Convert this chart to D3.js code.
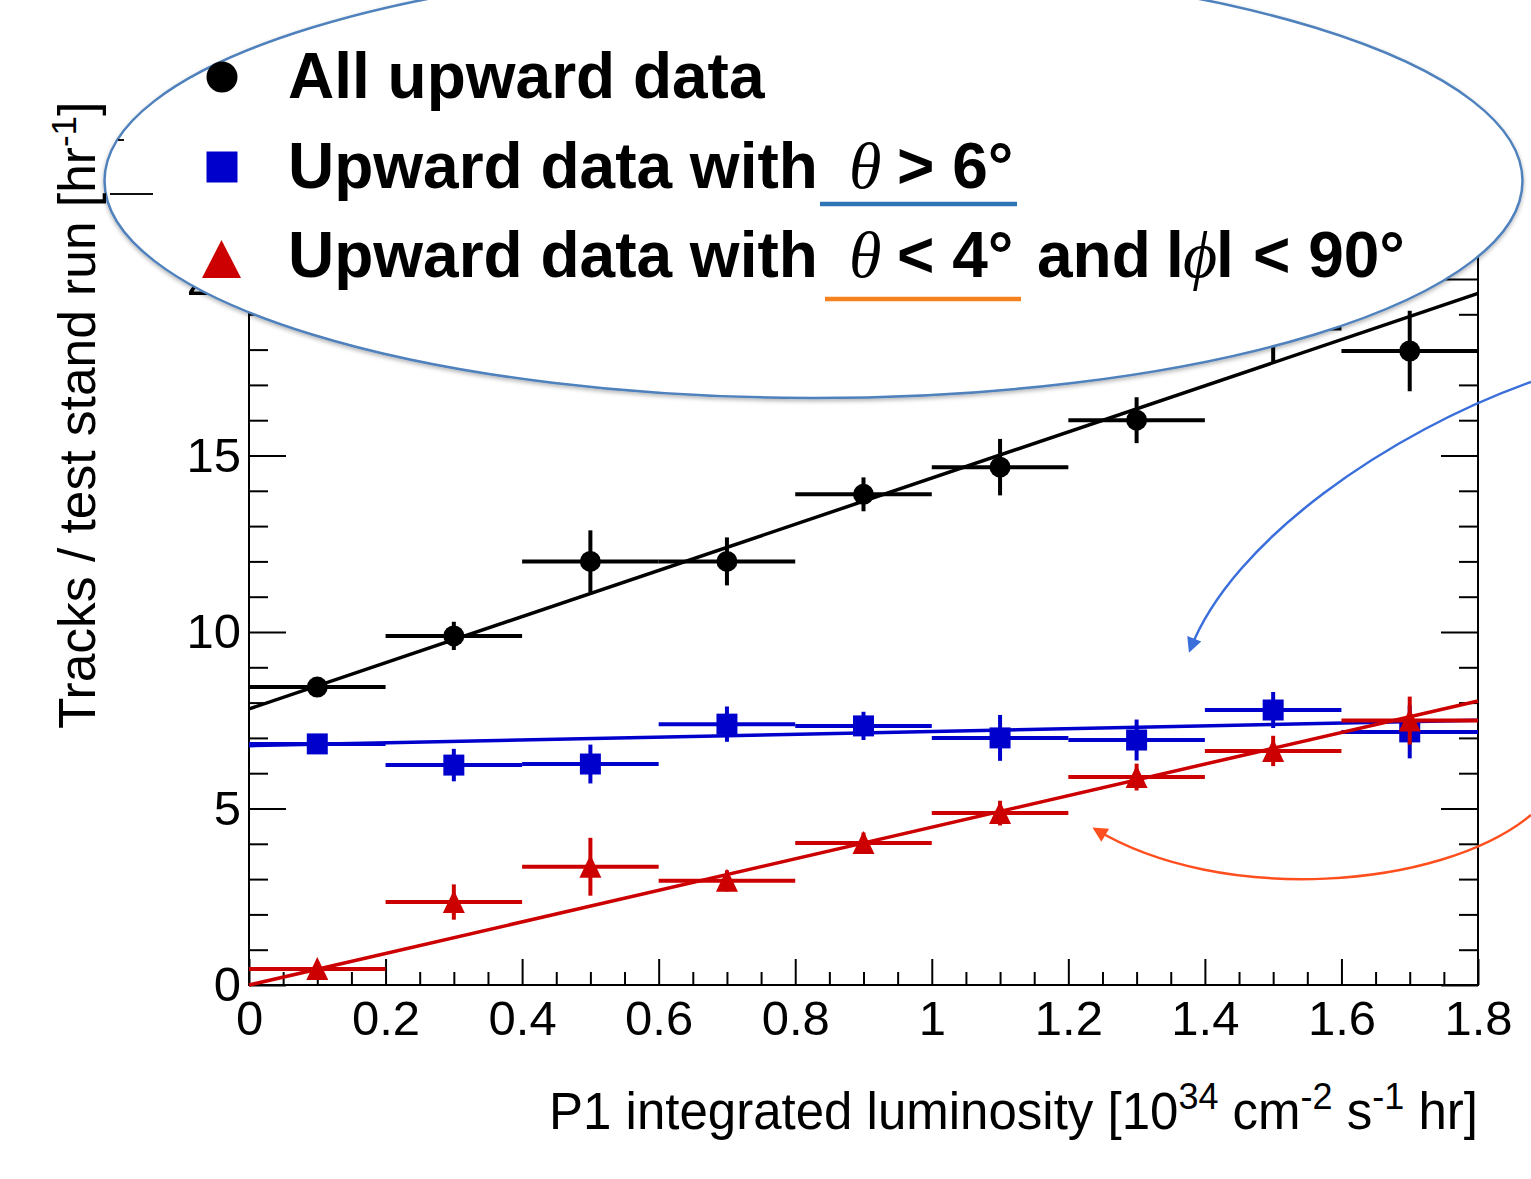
<!DOCTYPE html>
<html><head><meta charset="utf-8">
<script src="https://cdn.jsdelivr.net/npm/d3@7"></script>
<style>body{margin:0;background:#fff;} svg{display:block;}</style>
</head><body>
<svg id="c" width="1531" height="1179"></svg>
<script>
// ---------------- data ----------------
const binCenters = [0.1, 0.3, 0.5, 0.7, 0.9, 1.1, 1.3, 1.5, 1.7];
const binHalfWidth = 0.1;
const allUpward    = [8.44, 9.89, 12.0, 12.0, 13.9, 14.67, 16.0, 18.6, 17.96];
const allUpwardErr = [0.25, 0.40, 0.88, 0.68, 0.48, 0.80, 0.65, 0.95, 1.14];
const thetaGt6     = [6.83, 6.23, 6.26, 7.39, 7.34, 7.00, 6.94, 7.79, 7.17];
const thetaGt6Err  = [0.15, 0.46, 0.55, 0.50, 0.40, 0.65, 0.58, 0.51, 0.75];
const thetaLt4     = [0.45, 2.35, 3.35, 2.95, 4.02, 4.87, 5.89, 6.63, 7.49];
const thetaLt4Err  = [0.20, 0.50, 0.82, 0.30, 0.30, 0.35, 0.38, 0.43, 0.68];
// linear fits: [intercept, slope]
const fitAll  = [7.82, 6.54];
const fitGt6  = [6.78, 0.40];
const fitLt4  = [0.00, 4.47];
const xTickValues = [0, 0.2, 0.4, 0.6, 0.8, 1.0, 1.2, 1.4, 1.6, 1.8];
const xTickLabels = ["0", "0.2", "0.4", "0.6", "0.8", "1", "1.2", "1.4", "1.6", "1.8"];
const yTickValues = [0, 5, 10, 15, 20];
const yTickLabels = ["0", "5", "10", "15", "20"];

// ---------------- setup ----------------
const FONT = "'Liberation Sans', Arial, Helvetica, sans-serif";
const SERIF = "'Liberation Serif', 'Times New Roman', serif";
const BLACK = "#000000", BLUE = "#0000cc", RED = "#cc0000";
const svg = d3.select("#c");
const defs = svg.append("defs");
const sh = defs.append("filter").attr("id", "shadow").attr("x", "-10%").attr("y", "-10%").attr("width", "120%").attr("height", "130%");
sh.append("feDropShadow").attr("dx", 0).attr("dy", 2).attr("stdDeviation", 2).attr("flood-color", "#000").attr("flood-opacity", 0.3);
function arrowMarker(id, color) {
  defs.append("marker").attr("id", id).attr("viewBox", "0 0 10 10")
    .attr("refX", 8).attr("refY", 5).attr("markerWidth", 17).attr("markerHeight", 15)
    .attr("markerUnits", "userSpaceOnUse").attr("orient", "auto")
    .append("path").attr("d", "M0,0 L10,5 L0,10 z").attr("fill", color);
}
arrowMarker("arrBlue", "#3a6edb");
arrowMarker("arrOrange", "#ff4f1e");

const x = d3.scaleLinear().domain([0, 1.8]).range([249, 1478]);
const y = d3.scaleLinear().domain([0, 24]).range([985, 985 - 24 * 35.3]);

const plot = svg.append("g");
plot.append("rect")
  .attr("x", x(0)).attr("y", y(24)).attr("width", x(1.8) - x(0)).attr("height", y(0) - y(24))
  .attr("fill", "none").attr("stroke", BLACK).attr("stroke-width", 2);

function styleAxis(g) {
  g.select(".domain").remove();
  g.selectAll("line").attr("stroke", BLACK).attr("stroke-width", 2);
  g.selectAll("text").attr("font-family", FONT).attr("font-size", 49).attr("fill", BLACK);
}
const xMinor = d3.range(0, 37).filter(i => i % 4 !== 0).map(i => i / 20);
const yMinor = d3.range(0, 25).filter(i => i % 5 !== 0);

// bottom
plot.append("g").attr("transform", `translate(0,${y(0)})`)
  .call(d3.axisBottom(x).tickValues(xTickValues).tickFormat((d, i) => xTickLabels[i]).tickSize(-26).tickSizeOuter(0).tickPadding(15))
  .call(styleAxis);
plot.append("g").attr("transform", `translate(0,${y(0)})`)
  .call(d3.axisBottom(x).tickValues(xMinor).tickFormat("").tickSize(-13).tickSizeOuter(0)).call(styleAxis);
// top (hidden under legend)
plot.append("g").attr("transform", `translate(0,${y(24)})`)
  .call(d3.axisTop(x).tickValues(xTickValues).tickFormat("").tickSize(-26).tickSizeOuter(0)).call(styleAxis);
// left
plot.append("g").attr("transform", `translate(${x(0)},0)`)
  .call(d3.axisLeft(y).tickValues(yTickValues).tickFormat((d, i) => yTickLabels[i]).tickSize(-37).tickSizeOuter(0).tickPadding(8))
  .call(styleAxis);
plot.append("g").attr("transform", `translate(${x(0)},0)`)
  .call(d3.axisLeft(y).tickValues(yMinor).tickFormat("").tickSize(-19).tickSizeOuter(0)).call(styleAxis);
// right
plot.append("g").attr("transform", `translate(${x(1.8)},0)`)
  .call(d3.axisRight(y).tickValues(yTickValues).tickFormat("").tickSize(-37).tickSizeOuter(0)).call(styleAxis);
plot.append("g").attr("transform", `translate(${x(1.8)},0)`)
  .call(d3.axisRight(y).tickValues(yMinor).tickFormat("").tickSize(-19).tickSizeOuter(0)).call(styleAxis);

// ---------------- series ----------------
function markerPath(kind, s) {
  if (kind === "circle") return d3.symbol(d3.symbolCircle, Math.PI * s * s)();
  if (kind === "square") return `M${-s},${-s}H${s}V${s}H${-s}Z`;
  return `M${-s},${s}H${s}L0,${-s * 1.1}Z`;
}
function drawSeries(vals, errs, color, kind, size) {
  const g = plot.append("g");
  const pts = binCenters.map((c, i) => ({ c, v: vals[i], e: errs[i] }));
  g.selectAll("line.h").data(pts).join("line")
    .attr("x1", d => x(d.c - binHalfWidth)).attr("x2", d => x(d.c + binHalfWidth))
    .attr("y1", d => y(d.v)).attr("y2", d => y(d.v))
    .attr("stroke", color).attr("stroke-width", 4);
  g.selectAll("line.v").data(pts).join("line")
    .attr("x1", d => x(d.c)).attr("x2", d => x(d.c))
    .attr("y1", d => y(d.v - d.e)).attr("y2", d => y(d.v + d.e))
    .attr("stroke", color).attr("stroke-width", 4);
  g.selectAll("path").data(pts).join("path")
    .attr("transform", d => `translate(${x(d.c)},${y(d.v)})`)
    .attr("d", markerPath(kind, size)).attr("fill", color);
}
function drawFit(fit, color) {
  plot.append("line")
    .attr("x1", x(0)).attr("y1", y(fit[0]))
    .attr("x2", x(1.8)).attr("y2", y(fit[0] + fit[1] * 1.8))
    .attr("stroke", color).attr("stroke-width", 3.5);
}
drawSeries(allUpward, allUpwardErr, BLACK, "circle", 10.5);
drawFit(fitAll, BLACK);
drawSeries(thetaGt6, thetaGt6Err, BLUE, "square", 10.5);
drawFit(fitGt6, BLUE);
drawSeries(thetaLt4, thetaLt4Err, RED, "triangle", 11);
drawFit(fitLt4, RED);

// ---------------- annotations ----------------
svg.append("path").attr("d", "M1531,382 C1390,432 1232,540 1190,650")
  .attr("fill", "none").attr("stroke", "#3a6edb").attr("stroke-width", 2.5).attr("marker-end", "url(#arrBlue)");
svg.append("path").attr("d", "M1531,815 C1440,890 1220,905 1095,829")
  .attr("fill", "none").attr("stroke", "#ff4f1e").attr("stroke-width", 2.5).attr("marker-end", "url(#arrOrange)");

// legend ellipse
svg.append("ellipse").attr("cx", 813.5).attr("cy", 181).attr("rx", 709).attr("ry", 217)
  .attr("fill", "#fff").attr("stroke", "#4f81bd").attr("stroke-width", 2.5).attr("filter", "url(#shadow)");

// stray marks on the slide
svg.append("line").attr("x1", 110).attr("x2", 153).attr("y1", 194).attr("y2", 194).attr("stroke", "#111").attr("stroke-width", 2);
svg.append("line").attr("x1", 118).attr("x2", 124).attr("y1", 140).attr("y2", 140).attr("stroke", "#111").attr("stroke-width", 2);

// legend markers
const leg = svg.append("g");
leg.append("circle").attr("cx", 222).attr("cy", 77).attr("r", 15.5).attr("fill", BLACK);
leg.append("rect").attr("x", 206.5).attr("y", 151.5).attr("width", 31).attr("height", 31).attr("fill", BLUE);
leg.append("path").attr("d", "M202,278 L241,278 L221.5,240 Z").attr("fill", RED);

function legText(xp, yp, str, opts = {}) {
  return leg.append("text").attr("x", xp).attr("y", yp)
    .attr("font-family", opts.serif ? SERIF : FONT)
    .attr("font-weight", opts.serif ? "normal" : "bold")
    .attr("font-style", opts.serif ? "italic" : "normal")
    .attr("font-size", opts.size || 64).attr("fill", BLACK).text(str);
}
legText(288, 98, "All upward data");
legText(288, 188, "Upward data with");
legText(849, 188, "θ", { serif: true, size: 66 });
legText(897, 188, "> 6°");
legText(288, 277, "Upward data with");
legText(849, 277, "θ", { serif: true, size: 66 });
legText(897, 277, "< 4°");
legText(1037, 277, "and");
legText(1166, 277, "l");
legText(1183, 277, "ϕ", { serif: true, size: 66 });
legText(1216, 277, "l");
legText(1253, 277, "< 90°");
leg.append("line").attr("x1", 820).attr("x2", 1017).attr("y1", 204).attr("y2", 204).attr("stroke", "#2e75b6").attr("stroke-width", 4.5);
leg.append("line").attr("x1", 825).attr("x2", 1021).attr("y1", 299).attr("y2", 299).attr("stroke", "#f5821f").attr("stroke-width", 4.5);

// ---------------- axis titles ----------------
const yt = svg.append("text").attr("transform", "translate(95,729) rotate(-90)")
  .attr("font-family", FONT).attr("font-size", 51.5).attr("fill", BLACK).attr("text-anchor", "start");
yt.append("tspan").text("Tracks / test stand run [hr");
yt.append("tspan").attr("dy", -19).attr("font-size", 35).text("-1");
yt.append("tspan").attr("dy", 19).text("]");

const xt = svg.append("text").attr("x", 1478).attr("y", 1129)
  .attr("font-family", FONT).attr("font-size", 51).attr("fill", BLACK).attr("text-anchor", "end");
xt.append("tspan").text("P1 integrated luminosity [10");
xt.append("tspan").attr("dy", -20).attr("font-size", 36).text("34");
xt.append("tspan").attr("dy", 20).text(" cm");
xt.append("tspan").attr("dy", -20).attr("font-size", 36).text("-2");
xt.append("tspan").attr("dy", 20).text(" s");
xt.append("tspan").attr("dy", -20).attr("font-size", 36).text("-1");
xt.append("tspan").attr("dy", 20).text(" hr]");
</script>
</body></html>
